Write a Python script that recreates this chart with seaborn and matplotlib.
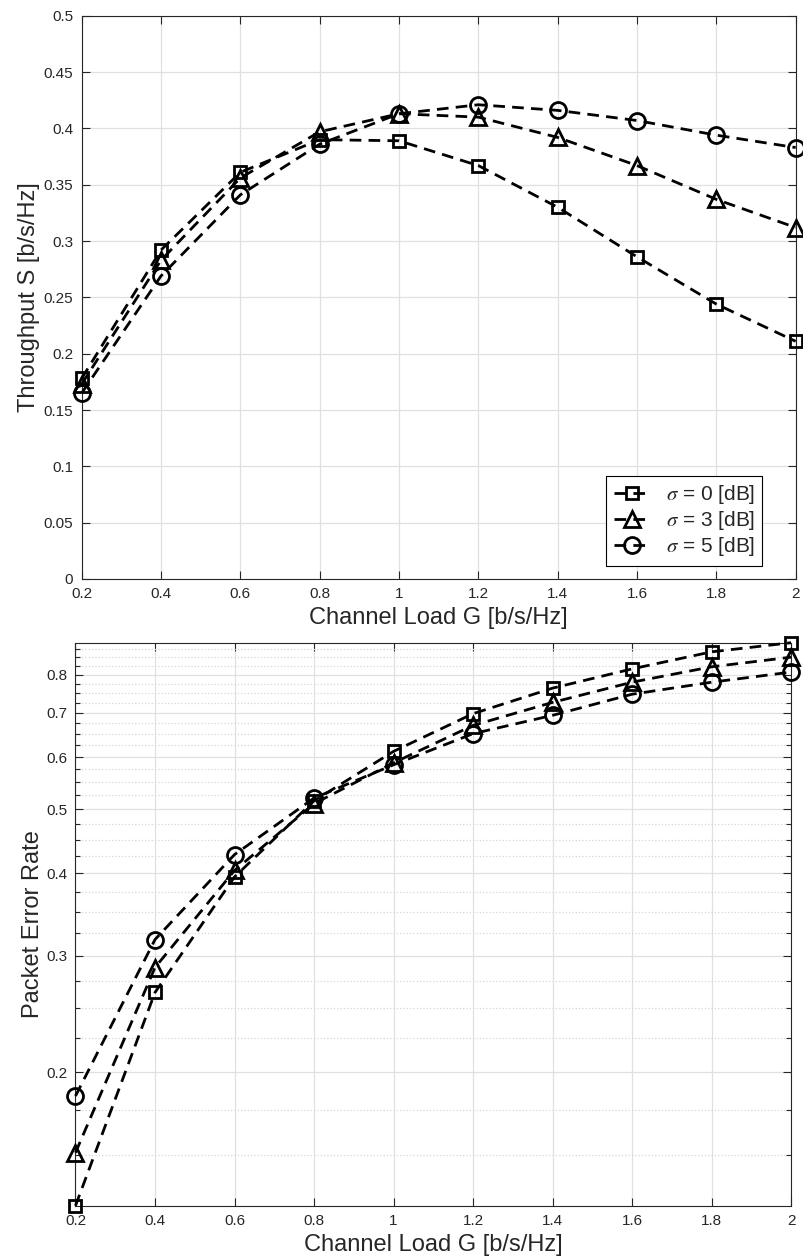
import matplotlib
matplotlib.use("Agg")
import matplotlib.pyplot as plt
import seaborn as sns
import pandas as pd
from matplotlib.ticker import FixedLocator, FuncFormatter, NullFormatter

# ---------------- data ----------------
load_g = [0.2, 0.4, 0.6, 0.8, 1.0, 1.2, 1.4, 1.6, 1.8, 2.0]
sigma_labels = [r"$\sigma$ = 0 [dB]", r"$\sigma$ = 3 [dB]", r"$\sigma$ = 5 [dB]"]

throughput_s0 = [0.178, 0.292, 0.361, 0.390, 0.389, 0.367, 0.330, 0.286, 0.244, 0.211]
throughput_s3 = [0.173, 0.283, 0.356, 0.397, 0.413, 0.410, 0.392, 0.367, 0.337, 0.312]
throughput_s5 = [0.165, 0.269, 0.341, 0.386, 0.413, 0.421, 0.416, 0.407, 0.394, 0.383]

per_s0 = [0.1255, 0.264, 0.395, 0.515, 0.612, 0.698, 0.763, 0.816, 0.866, 0.894]
per_s3 = [0.151, 0.288, 0.404, 0.510, 0.588, 0.670, 0.726, 0.779, 0.822, 0.850]
per_s5 = [0.184, 0.3175, 0.427, 0.520, 0.584, 0.651, 0.694, 0.747, 0.779, 0.807]

x_ticks = [0.2, 0.4, 0.6, 0.8, 1.0, 1.2, 1.4, 1.6, 1.8, 2.0]
thr_ticks = [0, 0.05, 0.1, 0.15, 0.2, 0.25, 0.3, 0.35, 0.4, 0.45, 0.5]
per_major_ticks = [0.2, 0.3, 0.4, 0.5, 0.6, 0.7, 0.8]
per_minor_ticks = [0.125, 0.15, 0.175, 0.225, 0.25, 0.275, 0.325, 0.35, 0.375,
                   0.425, 0.45, 0.475, 0.525, 0.55, 0.575, 0.625, 0.65, 0.675,
                   0.725, 0.75, 0.775, 0.825, 0.85, 0.875]

xlabel = "Channel Load G [b/s/Hz]"
ylabel_top = "Throughput S [b/s/Hz]"
ylabel_bot = "Packet Error Rate"

# ---------------- style ----------------
sns.set_theme(style="ticks")
plt.rcParams["font.family"] = ["Liberation Sans", "DejaVu Sans"]
plt.rcParams["mathtext.fontset"] = "stix"

TXT = "#262626"
markers = ["s", "^", "o"]
msizes = [8.5, 12, 11.5]
dash = (0, (4.2, 2.6))

fig = plt.figure(figsize=(8.04, 12.6), dpi=100)
ax1 = fig.add_axes([0.1016, 0.5405, 0.888, 0.447])
ax2 = fig.add_axes([0.0939, 0.0431, 0.890, 0.4468])

fmt = FuncFormatter(lambda v, p: f"{v:g}")


def draw(ax, series):
    handles = []
    for vals, m, ms, lab in zip(series, markers, msizes, sigma_labels):
        df = pd.DataFrame({"G": load_g, "v": vals})
        n0 = len(ax.lines)
        sns.lineplot(data=df, x="G", y="v", ax=ax, color="black", marker=m,
                     markersize=ms, markeredgewidth=2.0, markeredgecolor="black",
                     markerfacecolor="none", linewidth=2.0, linestyle=dash,
                     legend=False, zorder=3)
        line = ax.lines[n0]
        line.set_linestyle(dash)
        line.set_clip_on(False)
        line.set_label(lab)
        handles.append(line)
    return handles


def style(ax):
    for s in ax.spines.values():
        s.set_color(TXT)
        s.set_linewidth(0.8)
        s.set_visible(True)
    ax.tick_params(which="both", direction="in", top=True, right=True,
                   color=TXT, labelcolor=TXT, width=0.8)
    ax.tick_params(which="major", length=6, labelsize=11, pad=6)
    ax.tick_params(which="minor", length=3.5)
    ax.set_axisbelow(True)
    ax.grid(True, which="major", color="#e0e0e0", linewidth=0.9, linestyle="-")
    ax.set_xlabel(xlabel, fontsize=17, color=TXT, labelpad=4)


# top panel
h1 = draw(ax1, [throughput_s0, throughput_s3, throughput_s5])
style(ax1)
ax1.set_xlim(0.2, 2.0)
ax1.set_ylim(0, 0.5)
ax1.xaxis.set_major_locator(FixedLocator(x_ticks))
ax1.yaxis.set_major_locator(FixedLocator(thr_ticks))
ax1.xaxis.set_major_formatter(fmt)
ax1.yaxis.set_major_formatter(fmt)
ax1.set_ylabel(ylabel_top, fontsize=17, color=TXT, labelpad=3)
leg = ax1.legend(handles=h1, labels=sigma_labels, loc="lower right",
                 bbox_to_anchor=(0.953, 0.0236), fontsize=15, frameon=True,
                 fancybox=False, framealpha=1, edgecolor="black",
                 handlelength=1.8, handletextpad=0.7, borderpad=0.35,
                 labelspacing=0.15, borderaxespad=0)
leg.get_frame().set_linewidth(0.8)

# bottom panel
draw(ax2, [per_s0, per_s3, per_s5])
ax2.set_yscale("log")
style(ax2)
ax2.grid(True, which="minor", axis="y", color="#d6d6d6", linewidth=0.9, linestyle=":")
ax2.set_xlim(0.2, 2.0)
all_per = per_s0 + per_s3 + per_s5
ax2.set_ylim(min(all_per), max(all_per))
ax2.xaxis.set_major_locator(FixedLocator(x_ticks))
ax2.xaxis.set_major_formatter(fmt)
ax2.yaxis.set_major_locator(FixedLocator(per_major_ticks))
ax2.yaxis.set_minor_locator(FixedLocator(per_minor_ticks))
ax2.yaxis.set_major_formatter(fmt)
ax2.yaxis.set_minor_formatter(NullFormatter())
ax2.xaxis.set_minor_locator(FixedLocator([]))
ax2.set_ylabel(ylabel_bot, fontsize=17, color=TXT, labelpad=0)
ax2.yaxis.set_label_coords(-0.044, 0.5)

fig.savefig("out.png", dpi=100)
